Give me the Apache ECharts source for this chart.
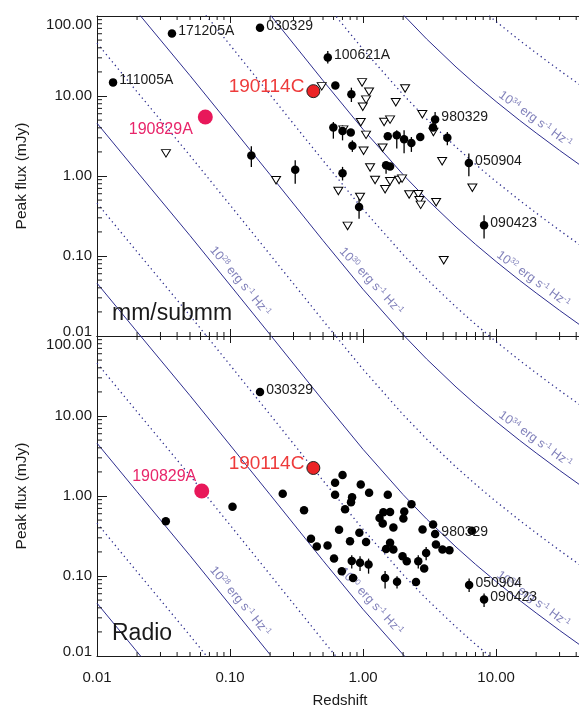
<!DOCTYPE html>
<html>
<head>
<meta charset="utf-8">
<script src="https://cdn.jsdelivr.net/npm/echarts@6/dist/echarts.min.js"></script>
<style>html,body{margin:0;padding:0;background:#fff}#chart{width:579px;height:707px}</style>
</head>
<body>
<div id="chart"></div>
<script>
// ================= DATA =================
// mm/submm detections: [redshift, peak flux mJy, err low, err high, name]
const mmDetections = [
  [0.0132, 14.8, null, null, '111005A'],
  [0.0366, 60.3, null, null, '171205A'],
  [0.168, 71.2, null, null, '030329'],
  [0.543, 30.2, 25.4, 36.5, '100621A'],
  [0.619, 13.5, null, null, ''],
  [0.817, 10.5, 8.41, 12.7, ''],
  [0.598, 4.03, 2.93, 4.73, ''],
  [0.701, 3.64, 2.79, 4.30, ''],
  [0.808, 3.49, null, null, ''],
  [0.831, 2.39, 2.00, 2.79, ''],
  [1.534, 3.13, null, null, ''],
  [1.792, 3.23, 2.20, 3.73, ''],
  [2.034, 2.87, 1.92, 3.73, ''],
  [2.308, 2.58, 2.00, 3.07, ''],
  [2.69, 3.07, null, null, ''],
  [3.36, 4.03, 3.23, 4.60, ''],
  [3.48, 5.08, 4.30, 6.31, '980329'],
  [4.30, 3.00, 2.42, 3.55, ''],
  [6.24, 1.45, 0.99, 1.91, '050904'],
  [0.1446, 1.81, 1.30, 2.35, ''],
  [0.309, 1.20, 0.80, 1.57, ''],
  [0.701, 1.08, 0.88, 1.30, ''],
  [1.489, 1.36, 1.07, 1.50, ''],
  [1.596, 1.31, null, null, ''],
  [0.933, 0.41, 0.293, 0.574, ''],
  [8.12, 0.242, 0.165, 0.323, '090423']
];
// mm/submm upper limits: [redshift, flux limit mJy]
const mmUpperLimits = [
  [0.0330, 1.92], [0.2218, 0.884], [0.489, 13.2], [0.983, 14.8], [1.109, 11.3],
  [1.053, 9.02], [0.995, 7.33], [2.07, 12.4], [1.762, 8.34], [2.79, 5.91],
  [0.961, 4.69], [1.439, 4.73], [1.596, 5.07], [0.711, 3.80], [1.053, 3.27],
  [3.38, 3.55], [1.009, 2.07], [1.402, 2.25], [3.93, 1.53], [1.129, 1.28],
  [1.231, 0.891], [1.596, 0.859], [1.865, 0.891], [1.964, 0.928], [1.464, 0.682],
  [0.652, 0.649], [0.949, 0.546], [2.22, 0.586], [2.60, 0.591], [2.65, 0.497],
  [2.71, 0.436], [3.54, 0.469], [6.63, 0.712], [0.765, 0.238], [4.04, 0.0884]
];
// radio detections: [redshift, peak flux mJy, err low, err high, name]
const radioDetections = [
  [0.168, 19.95, null, null, '030329'],
  [0.0329, 0.483, null, null, ''], [0.1044, 0.733, null, null, ''], [0.249, 1.07, null, null, ''],
  [0.360, 0.663, null, null, ''], [0.701, 1.83, null, null, ''], [0.616, 1.46, null, null, ''],
  [0.961, 1.39, null, null, ''], [1.11, 1.10, null, null, ''], [0.616, 1.04, null, null, ''],
  [0.827, 0.963, null, null, ''], [0.812, 0.834, null, null, ''], [0.732, 0.682, null, null, ''],
  [1.534, 1.04, null, null, ''], [2.31, 0.787, null, null, ''], [1.42, 0.626, null, null, ''],
  [1.596, 0.631, null, null, ''], [2.04, 0.638, null, null, ''], [1.33, 0.531, null, null, ''],
  [1.406, 0.452, null, null, ''], [2.01, 0.522, null, null, ''], [1.69, 0.403, null, null, ''],
  [3.36, 0.44, null, null, ''], [2.80, 0.380, null, null, ''], [3.48, 0.335, null, null, '980329'],
  [6.57, 0.367, null, null, ''], [0.660, 0.378, null, null, ''], [0.938, 0.347, null, null, ''],
  [0.798, 0.272, null, null, ''], [1.053, 0.266, null, null, ''], [0.406, 0.293, null, null, ''],
  [0.449, 0.233, null, null, ''], [0.541, 0.240, null, null, ''], [0.605, 0.166, null, null, ''],
  [0.692, 0.1145, null, null, ''], [0.822, 0.154, 0.124, 0.1815, ''], [0.949, 0.146, 0.1155, 0.176, ''],
  [1.10, 0.139, 0.107, 0.165, ''], [0.841, 0.0944, null, null, ''], [1.596, 0.260, null, null, ''],
  [1.489, 0.217, null, null, ''], [1.69, 0.214, null, null, ''], [1.98, 0.176, null, null, ''],
  [2.13, 0.153, null, null, ''], [2.60, 0.153, 0.124, 0.1815, ''], [2.98, 0.194, 0.157, 0.230, ''],
  [2.88, 0.124, null, null, ''], [3.53, 0.248, null, null, ''], [3.95, 0.214, null, null, ''],
  [4.46, 0.210, null, null, ''], [1.464, 0.0944, 0.0696, 0.1155, ''], [1.80, 0.0846, 0.0696, 0.0991, ''],
  [2.50, 0.0841, null, null, ''], [6.27, 0.0772, 0.0631, 0.0928, '050904'], [8.12, 0.0507, 0.041, 0.0603, '090423']
];
// highlighted bursts: [redshift, flux mJy]
const grb190114C_mm = [0.423, 11.5];
const grb190114C_radio = [0.423, 2.24];
const grb190829A_mm = [0.0652, 5.46];
const grb190829A_radio = [0.0613, 1.155];

// iso-luminosity curves: [redshift, flux mJy] for L = 10^N erg s^-1 Hz^-1
const curveL26 = [[0.01,0.0457],[0.02,0.0113],[0.05,0.0018]];
const curveL27 = [[0.01,0.457],[0.02,0.113],[0.05,0.018],[0.1,0.00434]];
const curveL28 = [[0.01,4.57],[0.02,1.13],[0.05,0.180],[0.1,0.0434],[0.2,0.0104]];
const curveL29 = [[0.01,45.7],[0.02,11.3],[0.05,1.80],[0.1,0.434],[0.2,0.104],[0.5,0.0156],[1,0.00383]];
const curveL30 = [[0.01,457],[0.02,113],[0.05,18.0],[0.1,4.34],[0.2,1.04],[0.5,0.156],[1,0.0383],[2,0.0104],[3,0.00517]];
const curveL31 = [[0.02,1130],[0.05,180],[0.1,43.4],[0.2,10.4],[0.5,1.56],[1,0.383],[2,0.104],[3,0.0517],[5,0.0230],[7,0.0140],[10,0.00852]];
const curveL32 = [[0.05,1800],[0.1,434],[0.2,104],[0.5,15.6],[1,3.83],[2,1.04],[3,0.517],[5,0.230],[7,0.140],[10,0.0852],[15,0.0497],[20,0.0345],[30,0.0209],[45,0.0129]];
const curveL33 = [[0.1,4340],[0.2,1044],[0.5,156],[1,38.3],[2,10.4],[3,5.17],[5,2.30],[7,1.40],[10,0.852],[15,0.497],[20,0.345],[30,0.209],[45,0.129]];
const curveL34 = [[0.5,1560],[1,383],[2,104],[3,51.7],[5,23.0],[7,14.0],[10,8.52],[15,4.97],[20,3.45],[30,2.09],[45,1.29]];
const curveL35 = [[1,3830],[2,1040],[3,517],[5,230],[7,140],[10,85.2],[15,49.7],[20,34.5],[30,20.9],[45,12.9]];
const curveExponents = [26, 27, 28, 29, 30, 31, 32, 33, 34, 35];
const curveData = [curveL26, curveL27, curveL28, curveL29, curveL30, curveL31, curveL32, curveL33, curveL34, curveL35];

// luminosity label anchors: [exponent, redshift, flux, rotation deg]
const lumLabels = [['28', 0.119, 0.0483, -50], ['30', 1.149, 0.0483, -47], ['32', 19.0, 0.0511, -36], ['34', 19.7, 5.11, -36]];

// axis ranges & ticks
const xRange = [0.01, 45];
const yRange = [0.01, 100];
const xMinorTicks = [0.02,0.03,0.04,0.05,0.06,0.07,0.08,0.09,0.2,0.3,0.4,0.5,0.6,0.7,0.8,0.9,2,3,4,5,6,7,8,9,20,30,40];
const yMinorTicks = [0.02,0.03,0.04,0.05,0.06,0.07,0.08,0.09,0.2,0.3,0.4,0.5,0.6,0.7,0.8,0.9,2,3,4,5,6,7,8,9,20,30,40,50,60,70,80,90];
const panelTitles = ['mm/submm', 'Radio'];

// ================= CHART =================
const FONT = '"Liberation Sans", Helvetica, Arial, sans-serif';
const INK = '#1a1a1a';
const LINE = '#2d2d8e';
const LUMTXT = '#6161a9';

function xFmt(v) {
  const l = Math.log10(v);
  if (Math.abs(l - Math.round(l)) > 1e-6) return '';
  return v.toFixed(2);
}
function yFmt(v) {
  const l = Math.log10(v);
  if (Math.abs(l - Math.round(l)) > 1e-6) return '';
  const s = v.toFixed(2);
  if (v > 50) return '{hi|' + s + '}';
  if (v < 0.015) return '{lo|' + s + '}';
  return s;
}
const lblStyle = {fontSize: 14, color: INK, fontFamily: FONT};
const tickStyle = {fontSize: 15, color: INK, fontFamily: FONT};

function xAxisDef(grid, pos, showLabels) {
  return {
    type: 'log', logBase: 10, gridIndex: grid, position: pos, min: xRange[0], max: xRange[1],
    axisLine: {show: true, lineStyle: {color: INK, width: 1}},
    axisTick: {show: true, inside: true, length: 7, lineStyle: {color: INK}},
    splitLine: {show: false}, minorTick: {show: false},
    axisLabel: {show: showLabels, formatter: xFmt, margin: 14, showMinLabel: true, showMaxLabel: false, ...tickStyle},
    name: showLabels ? 'Redshift' : '', nameLocation: 'middle', nameGap: 37,
    nameTextStyle: {fontSize: 15, color: INK, fontFamily: FONT}
  };
}
function yAxisDef(grid) {
  return {
    type: 'log', logBase: 10, gridIndex: grid, position: 'left', min: yRange[0], max: yRange[1],
    axisLine: {show: true, lineStyle: {color: INK, width: 1}},
    axisTick: {show: true, inside: true, length: 10, lineStyle: {color: INK}},
    splitLine: {show: false}, minorTick: {show: false},
    axisLabel: {
      show: true, formatter: yFmt, margin: 5, showMinLabel: true, showMaxLabel: true, ...tickStyle,
      rich: {
        hi: {...tickStyle, padding: [17, 0, 0, 0]},
        lo: {...tickStyle, padding: [0, 0, 8, 0]}
      }
    },
    name: 'Peak flux (mJy)', nameLocation: 'middle', nameGap: 67, nameRotate: 90,
    nameTextStyle: {fontSize: 15.5, color: INK, fontFamily: FONT}
  };
}

function minorXRender(params, api) {
  const cs = params.coordSys;
  const x = api.coord([api.value(0), 1])[0];
  const yb = cs.y + cs.height, yt = cs.y;
  return {type: 'group', children: [
    {type: 'line', shape: {x1: x, y1: yb, x2: x, y2: yb - 4}, style: {stroke: INK, lineWidth: 1}},
    {type: 'line', shape: {x1: x, y1: yt, x2: x, y2: yt + 4}, style: {stroke: INK, lineWidth: 1}}
  ]};
}
function minorYRender(params, api) {
  const cs = params.coordSys;
  const y = api.coord([1, api.value(1)])[1];
  return {type: 'line', shape: {x1: cs.x, y1: y, x2: cs.x + 5, y2: y}, style: {stroke: INK, lineWidth: 1}};
}
function errRender(params, api) {
  const p1 = api.coord([api.value(0), api.value(2)]);
  const p2 = api.coord([api.value(0), api.value(3)]);
  return {type: 'line', shape: {x1: p1[0], y1: p1[1], x2: p2[0], y2: p2[1]}, style: {stroke: '#000', lineWidth: 1.3}};
}

const TRI = 'path://M0,0 L10,0 L5,9 Z';
const series = [];

function addPanel(pi, xIdx, yIdx, dets, limits, c114, c829, lab829) {
  const ax = {xAxisIndex: xIdx, yAxisIndex: yIdx};
  curveData.forEach((cd, i) => {
    const odd = curveExponents[i] % 2 === 1;
    series.push({type: 'line', ...ax, data: cd, showSymbol: false, symbol: 'none', clip: true, silent: true, z: 1,
      lineStyle: odd ? {color: LINE, width: 1.3, type: [1.3, 3.4], opacity: 1} : {color: LINE, width: 1, opacity: 1}});
  });
  series.push({type: 'scatter', ...ax, symbolSize: 1, itemStyle: {color: 'transparent'}, silent: true, z: 2,
    data: lumLabels.map(d => ({value: [d[1], d[2]], name: d[0], label: {rotate: d[3]}})),
    label: {show: true, position: 'inside', color: LUMTXT, fontFamily: FONT,
      formatter: p => '{b|10}{s|' + p.name + '}{b| erg s}{s|-1}{b| Hz}{s|-1}',
      rich: {b: {fontSize: 12.5, color: LUMTXT, fontFamily: FONT, lineHeight: 14},
             s: {fontSize: 8, color: LUMTXT, fontFamily: FONT, lineHeight: 8, verticalAlign: 'top'}}}});
  series.push({type: 'custom', ...ax, renderItem: minorXRender, data: xMinorTicks.map(v => [v, 1]), silent: true, z: 5});
  series.push({type: 'custom', ...ax, renderItem: minorYRender, data: yMinorTicks.map(v => [1, v]), silent: true, z: 5});
  if (limits) {
    series.push({type: 'scatter', ...ax, symbol: TRI, symbolSize: [9, 7.5], z: 3, silent: true,
      itemStyle: {color: '#fff', borderColor: '#000', borderWidth: 1, opacity: 1}, data: limits});
  }
  series.push({type: 'custom', ...ax, renderItem: errRender, z: 3, silent: true,
    data: dets.filter(d => d[2] != null).map(d => [d[0], d[1], d[2], d[3]])});
  series.push({type: 'scatter', ...ax, symbol: 'circle', symbolSize: 8.5, z: 4, silent: true,
    itemStyle: {color: '#000', opacity: 1},
    data: dets.map(d => ({value: [d[0], d[1]], name: d[4]})),
    label: {show: true, position: 'right', distance: 2, offset: [0, -2], formatter: '{b}', ...lblStyle}});
  series.push({type: 'scatter', ...ax, symbol: 'circle', symbolSize: 13, z: 6, silent: true,
    itemStyle: {color: '#ec2326', borderColor: '#222', borderWidth: 1, opacity: 1},
    data: [{value: c114, name: '190114C'}],
    label: {show: true, position: 'left', distance: 2, offset: [0, -4], formatter: '{b}', fontSize: 19, color: '#ee3b3b', fontFamily: FONT}});
  series.push({type: 'scatter', ...ax, symbol: 'circle', symbolSize: 15, z: 6, silent: true,
    itemStyle: {color: '#e8185a', opacity: 1},
    data: [{value: c829, name: '190829A'}],
    label: {show: true, position: 'left', formatter: '{b}', fontSize: 16, color: '#e8256a', fontFamily: FONT, ...lab829}});
}

addPanel(0, 0, 0, mmDetections, mmUpperLimits, grb190114C_mm, grb190829A_mm, {distance: 5, offset: [0, 13]});
addPanel(1, 2, 1, radioDetections, null, grb190114C_radio, grb190829A_radio, {distance: -2, offset: [0, -14]});

const option = {
  backgroundColor: '#fff',
  animation: false,
  textStyle: {fontFamily: FONT},
  title: panelTitles.map((t, i) => ({text: t, left: 112, top: i === 0 ? 302 : 622, padding: 0,
    textStyle: {fontSize: 23, fontWeight: 'normal', color: INK, fontFamily: FONT}})),
  grid: [
    {left: 97, top: 16, width: 486, height: 320, containLabel: false, outerBoundsMode: 'none'},
    {left: 97, top: 336, width: 486, height: 320, containLabel: false, outerBoundsMode: 'none'}
  ],
  xAxis: [xAxisDef(0, 'bottom', false), xAxisDef(0, 'top', false), xAxisDef(1, 'bottom', true), xAxisDef(1, 'top', false)],
  yAxis: [yAxisDef(0), yAxisDef(1)],
  series: series
};
const chart = echarts.init(document.getElementById('chart'));
chart.setOption(option);
</script>
</body>
</html>
